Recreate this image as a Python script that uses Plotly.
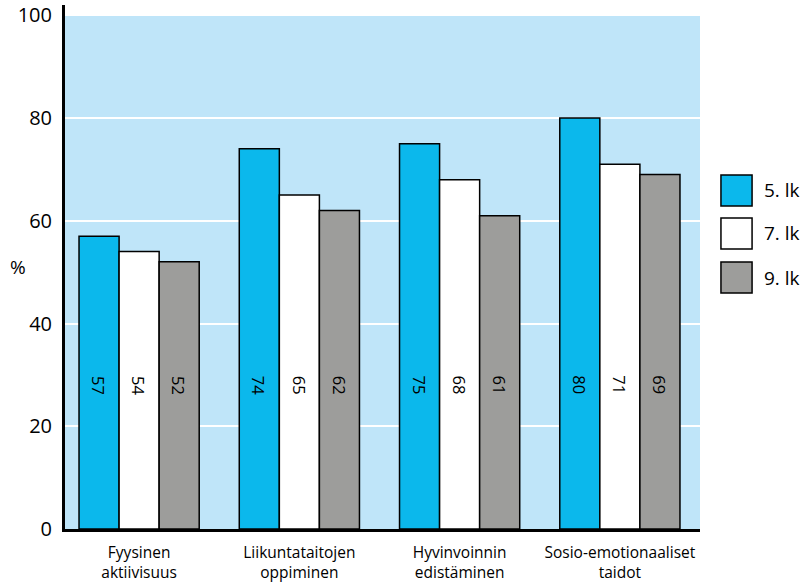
import plotly.graph_objects as go

categories = ["Fyysinen<br>aktiivisuus", "Liikuntataitojen<br>oppiminen",
              "Hyvinvoinnin<br>edistäminen", "Sosio-emotionaaliset<br>taidot"]
series_names = ["5. lk", "7. lk", "9. lk"]
vals_5 = [57, 74, 75, 80]
vals_7 = [54, 65, 68, 71]
vals_9 = [52, 62, 61, 69]
y_ticks = [0, 20, 40, 60, 80, 100]

colors = ["#0bb8ec", "#ffffff", "#9d9d9b"]
bg = "#bfe5f9"
FONT = "Open Sans"
label_y = 28

fig = go.Figure()
all_vals = [vals_5, vals_7, vals_9]
for name, vals, col in zip(series_names, all_vals, colors):
    fig.add_trace(go.Bar(
        x=list(range(len(categories))), y=vals, name=name,
        marker=dict(color=col, line=dict(color="black", width=1.5)),
        showlegend=False, hoverinfo="skip"))

offsets = [-0.25, 0, 0.25]
annotations = []
for vals, off in zip(all_vals, offsets):
    for i, v in enumerate(vals):
        annotations.append(dict(x=i + off, y=label_y, xref="x", yref="y",
                                text=str(v), showarrow=False, textangle=90,
                                font=dict(family=FONT, size=16.5, color="black")))

annotations.append(dict(x=-0.074, y=0.5, xref="paper", yref="paper", xanchor="center",
                        text="%", showarrow=False,
                        font=dict(family=FONT, size=19, color="black")))

shapes = [dict(type="rect", xref="x", yref="y", x0=-0.4625, x1=3.5, y0=0, y1=100,
               fillcolor=bg, line=dict(width=0), layer="below")]
leg_y = [(0.6756, 0.6164), (0.5935, 0.5344), (0.5095, 0.4504)]
for (y1, y0), col, name in zip(leg_y, colors, series_names):
    shapes.append(dict(type="rect", xref="paper", yref="paper", x0=1.033, x1=1.082,
                       y0=y0, y1=y1, fillcolor=col, line=dict(color="black", width=1.5)))
    annotations.append(dict(x=1.097, y=(y0 + y1) / 2, xref="paper", yref="paper",
                            xanchor="left", yanchor="middle", text=name, showarrow=False,
                            font=dict(family=FONT, size=19, color="black")))

fig.update_layout(
    width=808, height=583,
    margin=dict(l=65, r=108, t=5, b=54, autoexpand=False),
    paper_bgcolor="white", plot_bgcolor="white",
    barmode="group", bargap=0.25, bargroupgap=0,
    font=dict(family=FONT, color="black"),
    shapes=shapes, annotations=annotations,
    xaxis=dict(range=[-0.4625, 3.5], tickmode="array", automargin=False,
               tickvals=list(range(len(categories))), ticktext=categories,
               showgrid=False, showline=True, linecolor="black", linewidth=3,
               ticks="", ticklabelstandoff=7,
               tickfont=dict(family=FONT, size=15.5, color="black"),
               zeroline=False),
    yaxis=dict(range=[0, 102], tickvals=y_ticks, showgrid=True, gridcolor="white",
               gridwidth=2, showline=True, linecolor="black", linewidth=3,
               ticks="", ticklabelstandoff=6, zeroline=False, automargin=False,
               tickfont=dict(family=FONT, size=20, color="black")),
)

fig.write_html("out.html", config={"displayModeBar": False},
               post_script="document.body.style.margin='0';")
